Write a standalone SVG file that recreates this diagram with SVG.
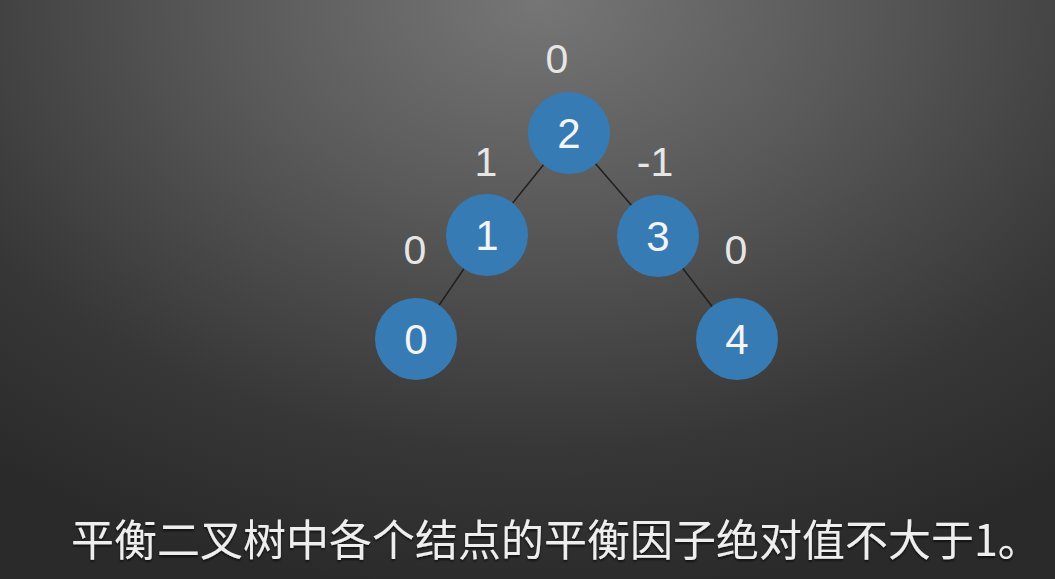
<svg xmlns="http://www.w3.org/2000/svg" width="1055" height="579" viewBox="0 0 1055 579">
<defs>
<radialGradient id="bg" gradientUnits="userSpaceOnUse" cx="540" cy="0" r="600" gradientTransform="translate(540 0) scale(1.45 1) translate(-540 0)">
<stop offset="0" stop-color="#767676"/>
<stop offset="0.35" stop-color="#5a5a5a"/>
<stop offset="0.75" stop-color="#373737"/>
<stop offset="1" stop-color="#2a2a2a"/>
</radialGradient>
<filter id="sh" x="-10%" y="-20%" width="120%" height="150%">
<feDropShadow dx="0" dy="2" stdDeviation="1" flood-color="#000" flood-opacity="0.6"/>
</filter>
<style>
.node circle { fill: #377bb5; }
.node text { fill: #f4f4f4; font-family: "Liberation Sans", "DejaVu Sans", sans-serif; font-size: 42px; text-anchor: middle; }
.bf { fill: #e6e6e6; font-family: "Liberation Sans", "DejaVu Sans", sans-serif; font-size: 41px; text-anchor: middle; }
.edge { stroke: #1e1e1e; stroke-width: 1.5; }
.caption { fill: #eeeeee; font-family: "Noto Sans CJK SC", "Noto Sans", sans-serif; font-size: 43px; filter: url(#sh); }
</style>
</defs>
<rect width="1055" height="579" fill="url(#bg)"/>
<g id="connectors">
<line class="edge" x1="569" y1="133" x2="487" y2="235"/>
<line class="edge" x1="569" y1="133" x2="658" y2="236"/>
<line class="edge" x1="487" y1="235" x2="416" y2="339"/>
<line class="edge" x1="658" y1="236" x2="737" y2="339"/>
</g>
<g id="node-2" class="node"><circle cx="569" cy="133" r="41"/><text x="569" y="148">2</text></g>
<g id="node-1" class="node"><circle cx="487" cy="235" r="41"/><text x="487" y="250">1</text></g>
<g id="node-3" class="node"><circle cx="658" cy="236" r="41"/><text x="658" y="251">3</text></g>
<g id="node-0" class="node"><circle cx="416" cy="339" r="41"/><text x="416" y="354">0</text></g>
<g id="node-4" class="node"><circle cx="737" cy="339" r="41"/><text x="737" y="354">4</text></g>
<g id="balance-factors">
<text class="bf" x="557" y="73">0</text>
<text class="bf" x="486" y="176">1</text>
<text class="bf" x="655" y="176">-1</text>
<text class="bf" x="415" y="264">0</text>
<text class="bf" x="736" y="264">0</text>
</g>
<text class="caption" x="71" y="556">平衡二叉树中各个结点的平衡因子绝对值不大于1。</text>
</svg>
